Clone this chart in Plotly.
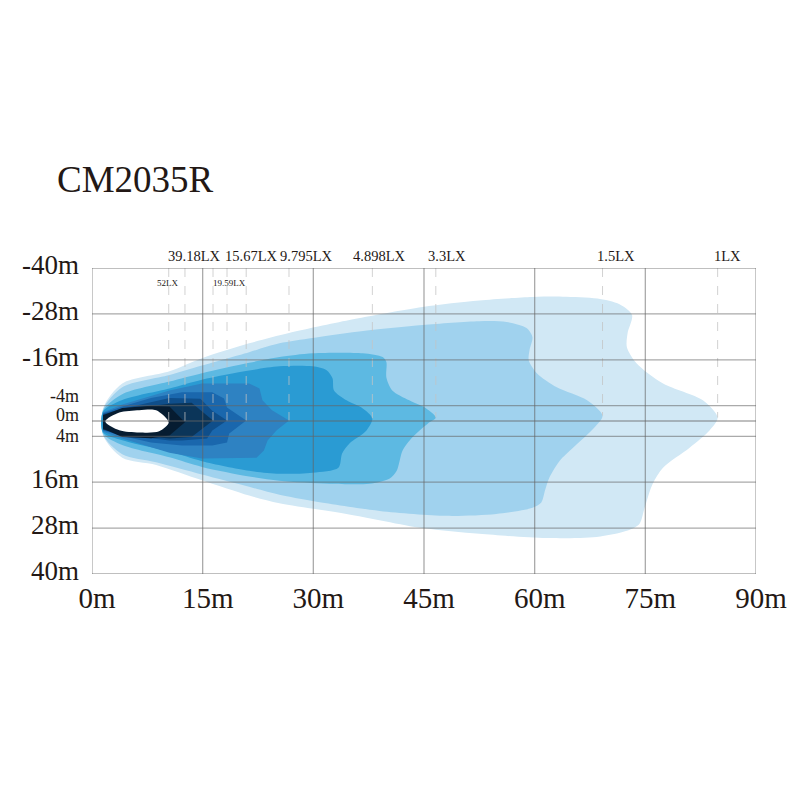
import plotly.graph_objects as go

# ---- axis ticks ----
x_ticks = [0, 15, 30, 45, 60, 75, 90]
x_tick_text = ["0m", "15m", "30m", "45m", "60m", "75m", "90m"]
y_ticks = [-40, -28, -16, -4, 0, 4, 16, 28, 40]
y_tick_text = ["-40m", "-28m", "-16m", "-4m", "0m", "4m", "16m", "28m", "40m"]
y_tick_size = [27, 27, 27, 18, 18, 18, 27, 27, 27]

# ---- isolux contours (x: distance m, y: lateral m), outer -> inner ----
c1_x = [1.5, 4.1, 10.5, 14.9, 21.3, 26.7, 34.9, 44.8, 52.5, 59.7, 63.8, 68.5, 71.5, 73.2, 72.6, 72.5, 73.8, 77.4, 82.8, 84.8, 83.7, 81.0, 77.4, 76.0, 74.9, 74.2, 72.5, 68.4, 61.6, 52.5, 44.8, 34.5, 25.4, 21.3, 14.9, 8.7, 4.1, 1.5, 1.5]
c1_y = [-3.3, -9.8, -13.0, -16.4, -20.3, -23.0, -26.4, -29.8, -31.5, -32.4, -32.5, -32.0, -30.5, -27.7, -23.0, -19.3, -15.1, -9.8, -5.4, -0.9, 2.5, 7.0, 12.2, 16.4, 22.7, 26.9, 28.7, 30.3, 30.6, 29.5, 28.0, 24.3, 21.5, 19.5, 15.5, 11.5, 9.6, 3.8, -3.3]

c2_x = [1.5, 4.1, 10.5, 14.9, 21.3, 25.4, 29.9, 37.0, 44.8, 52.5, 56.2, 58.9, 59.7, 59.3, 59.2, 60.3, 63.0, 67.1, 69.2, 68.1, 65.2, 63.4, 62.0, 61.4, 60.9, 59.7, 54.8, 48.1, 39.0, 29.9, 25.4, 21.3, 14.9, 8.7, 4.1, 1.5, 1.5]
c2_y = [-3.0, -8.8, -12.0, -14.5, -18.0, -20.3, -21.7, -23.6, -25.1, -26.1, -25.9, -24.3, -21.9, -18.5, -15.9, -12.5, -8.8, -5.4, -1.4, 1.7, 7.0, 10.4, 14.8, 18.2, 21.3, 22.7, 24.3, 24.8, 23.5, 20.9, 19.3, 17.2, 14.0, 10.8, 8.7, 3.6, -3.0]

c3_x = [1.5, 4.1, 10.5, 14.9, 21.3, 25.4, 29.9, 36.7, 39.4, 39.9, 39.9, 40.7, 43.0, 45.3, 46.6, 45.5, 43.4, 42.1, 41.3, 40.3, 37.6, 32.2, 25.4, 21.3, 14.9, 10.5, 4.1, 1.5, 1.5]
c3_y = [-2.7, -7.0, -10.3, -12.5, -15.2, -16.7, -17.7, -17.7, -16.7, -15.4, -11.4, -8.0, -5.4, -3.3, -0.9, 0.7, 4.3, 7.7, 13.0, 15.1, 16.4, 16.4, 15.6, 14.5, 12.0, 9.5, 6.3, 3.3, -2.7]

c4_x = [1.5, 4.1, 10.5, 14.9, 21.3, 25.4, 29.9, 31.8, 32.6, 32.8, 34.5, 36.7, 38.0, 37.2, 34.9, 33.9, 33.4, 29.9, 25.4, 21.3, 14.9, 10.5, 4.1, 1.5, 1.5]
c4_y = [-2.5, -5.5, -8.5, -10.8, -13.2, -14.3, -14.3, -13.3, -11.2, -8.0, -5.4, -3.3, -0.7, 2.5, 5.9, 8.5, 12.2, 13.5, 13.8, 13.0, 10.5, 8.0, 5.0, 3.0, -2.5]

c5_x = [1.5, 4.1, 10.5, 14.9, 21.3, 22.7, 23.1, 24.4, 26.7, 25.0, 23.8, 23.3, 22.3, 14.9, 10.5, 4.1, 1.5, 1.5]
c5_y = [-2.3, -4.3, -8.0, -9.8, -9.8, -8.5, -5.4, -2.8, -0.1, 2.5, 5.1, 7.7, 9.6, 9.8, 8.3, 4.6, 2.8, -2.3]

c6_x = [1.5, 4.1, 8.0, 12.2, 16.3, 17.9, 18.3, 20.9, 18.6, 18.3, 16.3, 12.2, 8.0, 4.1, 1.5, 1.5]
c6_y = [-2.0, -3.8, -6.0, -7.5, -7.5, -5.9, -3.5, -0.1, 3.3, 5.6, 6.4, 6.4, 5.6, 3.9, 2.5, -2.0]

c7_x = [1.5, 4.1, 10.5, 14.7, 16.3, 18.3, 16.3, 15.6, 12.2, 10.5, 4.1, 1.5, 1.5]
c7_y = [-1.8, -3.2, -6.0, -5.8, -2.7, -0.1, 2.5, 4.6, 5.1, 5.1, 3.6, 2.3, -1.8]

c8_x = [1.5, 4.1, 10.5, 13.5, 16.4, 13.5, 10.5, 4.1, 1.5, 1.5]
c8_y = [-1.6, -3.0, -4.5, -4.8, -0.1, 4.2, 4.6, 3.4, 2.2, -1.6]

c9_x = [1.5, 4.1, 8.0, 10.5, 12.6, 10.5, 8.0, 4.1, 1.5, 1.5]
c9_y = [-1.5, -3.4, -4.0, -3.8, 0.3, 3.8, 4.5, 4.2, 2.0, -1.5]

c10_x = [1.8, 3.7, 6.4, 8.7, 10.4, 9.1, 6.4, 3.7, 1.8]
c10_y = [0.1, -2.2, -2.8, -2.8, 0.4, 2.7, 3.0, 2.4, 0.1]

contour_colors = ["#d1e8f5", "#a0d2ee", "#5db9e2", "#2a9bd3", "#2e82c2",
                  "#1a67ad", "#0f4e8a", "#0b3559", "#061c31", "#ffffff"]
contour_smooth = [True, True, True, True, False, False, False, False, False, True]

# ---- labels ----
top_labels = ["39.18LX", "15.67LX", "9.795LX", "4.898LX", "3.3LX", "1.5LX", "1LX"]
top_label_x = [13.85, 21.6, 29.05, 38.9, 48.1, 71.0, 86.1]
small_labels = ["52LX", "19.59LX"]
small_label_x = [10.3, 18.7]
title_text = "CM2035R"

FONT = "Liberation Serif, Times New Roman, serif"
TXT = "#231815"

contours = [(c1_x, c1_y), (c2_x, c2_y), (c3_x, c3_y), (c4_x, c4_y), (c5_x, c5_y),
            (c6_x, c6_y), (c7_x, c7_y), (c8_x, c8_y), (c9_x, c9_y), (c10_x, c10_y)]

fig = go.Figure()
for (cx, cy), col, sm in zip(contours, contour_colors, contour_smooth):
    fig.add_trace(go.Scatter(
        x=cx, y=cy, mode="lines", fill="toself", fillcolor=col,
        line=dict(width=0, color=col, shape="spline" if sm else "linear", smoothing=0.8),
        hoverinfo="skip", showlegend=False))

shapes = []
# dashed marker lines at each contour tip
for cx, cy in contours:
    i = max(range(len(cx)), key=lambda k: cx[k])
    shapes.append(dict(type="line", xref="x", yref="y", x0=cx[i], x1=cx[i],
                       y0=-40, y1=cy[i], layer="above",
                       line=dict(color="rgba(195,195,195,0.75)", width=1, dash="dash")))
# grid lines (drawn above fills)
for xv in x_ticks:
    shapes.append(dict(type="line", xref="x", yref="paper", x0=xv, x1=xv, y0=0, y1=1,
                       layer="above", line=dict(color="rgba(100,100,100,0.55)", width=1.3)))
for yv in y_ticks:
    shapes.append(dict(type="line", xref="paper", yref="y", x0=0, x1=1, y0=yv, y1=yv,
                       layer="above", line=dict(color="rgba(100,100,100,0.55)", width=1.3)))

annotations = [dict(text=title_text, xref="paper", yref="paper", x=-0.0557, y=1.288,
                    xanchor="left", yanchor="middle", showarrow=False,
                    font=dict(family=FONT, size=37, color=TXT))]
for t, xv in zip(top_labels, top_label_x):
    annotations.append(dict(text=t, xref="x", yref="paper", x=xv, y=1.039,
                            xanchor="center", yanchor="middle", showarrow=False,
                            font=dict(family=FONT, size=14.5, color=TXT)))
for t, xv in zip(small_labels, small_label_x):
    annotations.append(dict(text=t, xref="x", yref="y", x=xv, y=-36.2,
                            xanchor="center", yanchor="middle", showarrow=False,
                            font=dict(family=FONT, size=9, color=TXT)))
small_shift = {-4: 10, 0: 6, 4: 0}
for t, yv, fs in zip(y_tick_text, y_ticks, y_tick_size):
    shift = 3 if fs > 20 else small_shift[yv]
    annotations.append(dict(text=t, xref="paper", yref="y", x=0, y=yv, xshift=-11,
                            yshift=shift, xanchor="right", yanchor="middle",
                            showarrow=False, font=dict(family=FONT, size=fs, color=TXT)))

fig.update_layout(
    width=800, height=800,
    margin=dict(l=84, r=52, t=260, b=234),
    paper_bgcolor="white", plot_bgcolor="white",
    shapes=shapes, annotations=annotations,
    xaxis=dict(range=[0, 90], tickvals=x_ticks, ticktext=x_tick_text,
               showgrid=False, zeroline=False, showline=False, ticks="",
               tickfont=dict(family=FONT, size=29, color=TXT),
               ticklabelshift=5, ticklabelstandoff=4, fixedrange=True,
               automargin=False),
    yaxis=dict(range=[40, -40], tickvals=y_ticks, showticklabels=False,
               showgrid=False, zeroline=False, showline=False, ticks="", fixedrange=True,
               automargin=False),
)

fig.write_html("out.html")
